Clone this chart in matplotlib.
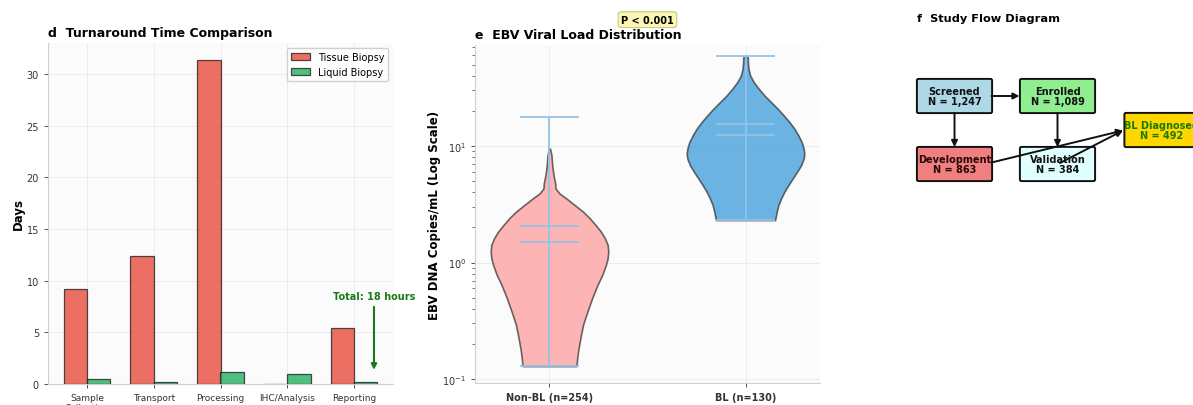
import numpy as np
import matplotlib
matplotlib.use("Agg")
import matplotlib.pyplot as plt
from matplotlib.patches import FancyBboxPatch

# ---------------- data ----------------
stages = ['Sample\nCollection', 'Transport', 'Processing', 'IHC/Analysis', 'Reporting']
tissue_days = [9.2, 12.4, 31.4, 0.0, 5.4]
liquid_days = [0.5, 0.2, 1.2, 1.0, 0.2]

groups = ['Non-BL (n=254)', 'BL (n=130)']
# violin outlines: log10(copies/mL) and relative half-width
nonbl_log = [0.977, 0.920, 0.834, 0.749, 0.678, 0.635, 0.592, 0.550, 0.493, 0.436,
             0.379, 0.322, 0.265, 0.208, 0.151, 0.094, 0.037, -0.020, -0.106, -0.191,
             -0.305, -0.419, -0.533, -0.647, -0.761, -0.889]
nonbl_dens = [0.010, 0.034, 0.046, 0.069, 0.097, 0.103, 0.171, 0.286, 0.429, 0.571,
              0.686, 0.783, 0.874, 0.943, 0.989, 1.000, 0.989, 0.960, 0.897, 0.817,
              0.726, 0.646, 0.571, 0.526, 0.486, 0.457]
bl_log = [1.760, 1.718, 1.661, 1.604, 1.547, 1.490, 1.433, 1.376, 1.319, 1.262,
          1.205, 1.148, 1.091, 1.034, 0.977, 0.934, 0.891, 0.834, 0.778, 0.721,
          0.664, 0.607, 0.550, 0.493, 0.436, 0.364]
bl_dens = [0.040, 0.040, 0.051, 0.079, 0.141, 0.226, 0.322, 0.435, 0.548, 0.650,
           0.746, 0.831, 0.898, 0.955, 0.989, 1.000, 0.989, 0.944, 0.876, 0.802,
           0.729, 0.661, 0.605, 0.559, 0.531, 0.503]
viral_mean = [2.05, 15.5]
viral_median = [1.51, 12.3]
viral_min = [0.129, 2.31]
viral_max = [17.7, 58.8]

flow_labels = ['Screened\nN = 1,247', 'Enrolled\nN = 1,089', 'Development\nN = 863',
               'Validation\nN = 384', 'BL Diagnosed\nN = 492']
flow_colors = ['#ADD8E6', '#90EE90', '#F08080', '#E0FFFF', '#FFD700']
flow_text_colors = ['#111111', '#111111', '#2a0505', '#111111', '#1a7a00']

# ---------------- figure ----------------
W, H = 1193, 406
fig = plt.figure(figsize=(W / 100, H / 100), dpi=100)
fig.patch.set_facecolor('white')


def px_axes(left, top, right, bottom):
    return fig.add_axes([left / W, (H - bottom) / H, (right - left) / W, (bottom - top) / H])


spine_c = '#d0d0d0'
tick_c = '#333333'

# ---- panel d ----
ax = px_axes(48, 44, 393, 385)
ax.set_facecolor('#fbfbfb')
x = np.arange(len(stages))
w = 0.35
ax.bar(x - w / 2, tissue_days, w, color='#E74C3C', alpha=0.8, edgecolor='#222222',
       linewidth=0.9, label='Tissue Biopsy', zorder=3)
ax.bar(x + w / 2, liquid_days, w, color='#27AE60', alpha=0.8, edgecolor='#222222',
       linewidth=0.9, label='Liquid Biopsy', zorder=3)
ax.set_xticks(x)
ax.set_xticklabels(stages, fontsize=6.5, color=tick_c)
ax.tick_params(axis='y', labelsize=7, colors=tick_c, length=3, width=0.6)
ax.tick_params(axis='x', length=3, width=0.6, colors=tick_c)
ax.set_ylabel('Days', fontsize=8.5, fontweight='bold', labelpad=1)
ax.set_title('d  Turnaround Time Comparison', loc='left', fontsize=9,
             fontweight='bold', pad=5)
ax.grid(True, color='#e6e6e6', linewidth=0.6, alpha=0.8, zorder=0)
for s in ['top', 'right']:
    ax.spines[s].set_visible(False)
for s in ['left', 'bottom']:
    ax.spines[s].set_color(spine_c)
    ax.spines[s].set_linewidth(0.8)
ax.set_ylim(0, 33)
ax.legend(loc='upper right', fontsize=7, frameon=True, framealpha=0.9,
          edgecolor='#cccccc', fancybox=True, handlelength=2.0)
ax.annotate('Total: 18 hours', xy=(4.3, 1.1), xytext=(4.3, 8.0),
            ha='center', va='bottom', fontsize=7, fontweight='bold', color='#1a7a1a',
            arrowprops=dict(arrowstyle='-|>', color='#1a7a1a', lw=1.5, mutation_scale=8))

# ---- panel e ----
ax2 = px_axes(475, 46, 820, 384)
ax2.set_facecolor('#fbfbfb')
ax2.set_yscale('log')
vpstats = []
for lg, dn, mn, md, lo, hi in [(nonbl_log, nonbl_dens, viral_mean[0], viral_median[0], viral_min[0], viral_max[0]),
                               (bl_log, bl_dens, viral_mean[1], viral_median[1], viral_min[1], viral_max[1])]:
    vpstats.append(dict(coords=10 ** np.array(lg), vals=np.array(dn), mean=mn,
                        median=md, min=lo, max=hi))
parts = ax2.violin(vpstats, positions=[1, 2], widths=0.6, showmeans=True,
                   showextrema=True, showmedians=True)
for body, fc in zip(parts['bodies'], ['#FF9999', '#3498DB']):
    body.set_facecolor(fc)
    body.set_alpha(0.72)
    body.set_edgecolor('#333333')
    body.set_linewidth(1.2)
    body.set_joinstyle('round')
    body.set_zorder(3)
for key in ['cbars', 'cmins', 'cmaxes', 'cmeans', 'cmedians']:
    parts[key].set_color('#94c2e6')
    parts[key].set_linewidth(1.3)
    parts[key].set_zorder(4)
ax2.set_xlim(0.62, 2.38)
ax2.set_ylim(0.0925, 73.5)
ax2.set_xticks([1, 2])
ax2.set_xticklabels(groups, fontsize=7, fontweight='bold')
ax2.tick_params(axis='y', which='major', labelsize=7, colors=tick_c, length=3, width=0.6)
ax2.tick_params(axis='y', which='minor', length=2, width=0.5, colors=tick_c)
ax2.tick_params(axis='x', length=3, width=0.6, colors=tick_c)
ax2.set_ylabel('EBV DNA Copies/mL (Log Scale)', fontsize=8.5, fontweight='bold',
               labelpad=1)
ax2.set_title('e  EBV Viral Load Distribution', loc='left', fontsize=9,
              fontweight='bold', pad=5)
ax2.grid(True, which='major', color='#e6e6e6', linewidth=0.6, alpha=0.8, zorder=0)
for s in ['top', 'right']:
    ax2.spines[s].set_visible(False)
for s in ['left', 'bottom']:
    ax2.spines[s].set_color(spine_c)
    ax2.spines[s].set_linewidth(0.8)
ax2.text(0.5, 1.075, 'P < 0.001', transform=ax2.transAxes, ha='center', va='center',
         fontsize=7, fontweight='bold',
         bbox=dict(boxstyle='round,pad=0.3', facecolor='#fbf6b4', edgecolor='#c8c890',
                   linewidth=0.8))

# ---- panel f ----
ax3 = fig.add_axes([905 / W, 0, 340 / W, 1])
ax3.set_xlim(905, 1245)
ax3.set_ylim(H, 0)
ax3.axis('off')
ax3.text(917, 19, 'f  Study Flow Diagram', ha='left', va='center', fontsize=8.2,
         fontweight='bold')
centers = [(954.5, 97), (1057.5, 97), (954.5, 165), (1057.5, 165), (1162, 131)]
bw, bh = 72, 31
for (cx, cy), lab, fc, tc in zip(centers, flow_labels, flow_colors, flow_text_colors):
    ax3.add_patch(FancyBboxPatch((cx - bw / 2, cy - bh / 2), bw, bh,
                                 boxstyle='round,pad=1.6', facecolor=fc,
                                 edgecolor='#111111', linewidth=1.4, zorder=2))
    ax3.text(cx, cy, lab, ha='center', va='center', fontsize=7, fontweight='bold',
             color=tc, zorder=3, linespacing=1.05)
arrows = [((991.5, 97), (1019.5, 97)),
          ((954.5, 114), (954.5, 148)),
          ((1057.5, 114), (1057.5, 148)),
          ((991.5, 163.5), (1123, 131.5)),
          ((1060, 164), (1123, 131.5))]
for start, end in arrows:
    ax3.annotate('', xy=end, xytext=start,
                 arrowprops=dict(arrowstyle='-|>', color='#111111', lw=1.4,
                                 mutation_scale=9, shrinkA=0, shrinkB=0), zorder=4)

fig.savefig('out.png', dpi=100)
